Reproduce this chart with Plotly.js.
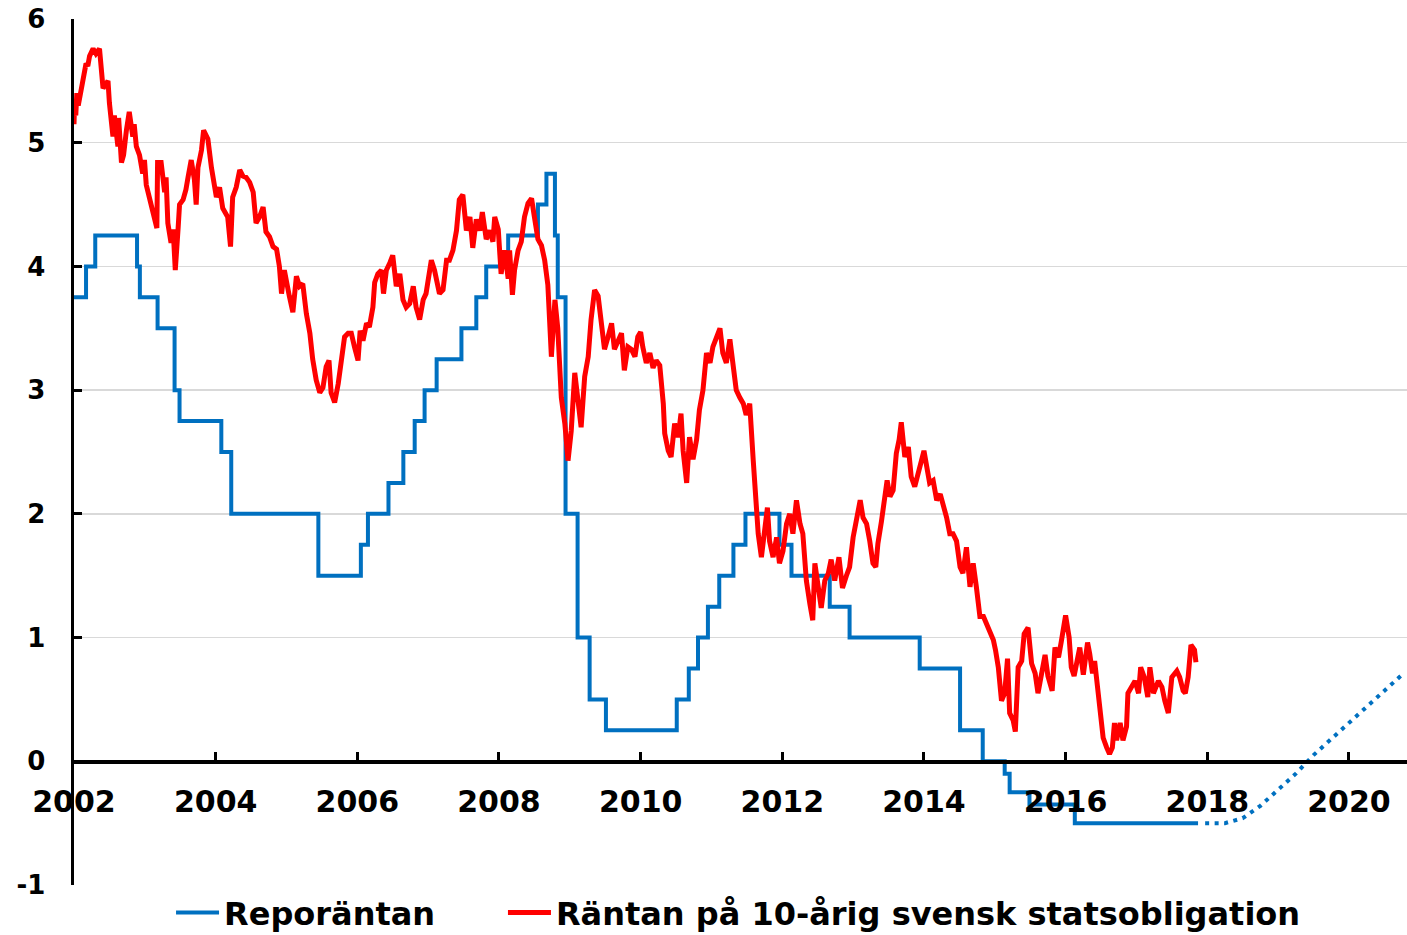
<!DOCTYPE html>
<html>
<head>
<meta charset="utf-8">
<script src="https://cdn.plot.ly/plotly-3.0.1.min.js"></script>
<style>
  html, body { margin: 0; padding: 0; background: #ffffff; }
  #chart { width: 1407px; height: 935px; }
</style>
</head>
<body>
<div id="chart"></div>
<script>
// ---- Data (decimal years, percent) ----
var seriesNames = ["Reporäntan", "Räntan på 10-årig svensk statsobligation"];

// Repo rate: step changes (year of change, new level)
var repoYears = [2002.00, 2002.17, 2002.30, 2002.89, 2002.93, 2003.18, 2003.42, 2003.49, 2004.08, 2004.22,
  2005.45, 2006.05, 2006.15, 2006.44, 2006.65, 2006.81, 2006.95, 2007.12, 2007.47, 2007.68,
  2007.82, 2008.13, 2008.55, 2008.67, 2008.79, 2008.83, 2008.94, 2009.11, 2009.28, 2009.51,
  2010.51, 2010.68, 2010.81, 2010.95, 2011.11, 2011.31, 2011.48, 2011.96, 2012.13, 2012.67,
  2012.95, 2013.94, 2014.51, 2014.83, 2015.14, 2015.21, 2015.49, 2016.13, 2017.87];
var repoRates = [3.75, 4.00, 4.25, 4.00, 3.75, 3.50, 3.00, 2.75, 2.50, 2.00,
  1.50, 1.75, 2.00, 2.25, 2.50, 2.75, 3.00, 3.25, 3.50, 3.75,
  4.00, 4.25, 4.50, 4.75, 4.25, 3.75, 2.00, 1.00, 0.50, 0.25,
  0.50, 0.75, 1.00, 1.25, 1.50, 1.75, 2.00, 1.75, 1.50, 1.25,
  1.00, 0.75, 0.25, 0.00, -0.10, -0.25, -0.35, -0.50, -0.50];

// Repo rate forecast (dotted)
var forecastYears = [2017.97, 2018.25, 2018.50, 2018.75, 2019.00, 2019.25, 2019.50, 2019.75, 2020.00, 2020.25, 2020.50, 2020.75];
var forecastRates = [-0.50, -0.50, -0.46, -0.36, -0.23, -0.10, 0.05, 0.18, 0.31, 0.44, 0.57, 0.70];

// 10-year government bond yield
var bondYears = [
  2002.00, 2002.01, 2002.025, 2002.04, 2002.06, 2002.10, 2002.125, 2002.17, 2002.195, 2002.22,
  2002.27, 2002.31, 2002.36, 2002.38, 2002.41, 2002.48, 2002.50, 2002.55, 2002.57, 2002.62,
  2002.63, 2002.67, 2002.70, 2002.74, 2002.78, 2002.83, 2002.85, 2002.88, 2002.925, 2002.97,
  2002.995, 2003.02, 2003.07, 2003.11, 2003.17, 2003.18, 2003.23, 2003.28, 2003.30, 2003.325,
  2003.37, 2003.40, 2003.43, 2003.47, 2003.49, 2003.54, 2003.58, 2003.61, 2003.655, 2003.70,
  2003.725, 2003.75, 2003.80, 2003.83, 2003.89, 2003.94, 2003.96, 2004.01, 2004.055, 2004.10,
  2004.17, 2004.21, 2004.24, 2004.29, 2004.34, 2004.385, 2004.43, 2004.48, 2004.53, 2004.57,
  2004.62, 2004.67, 2004.71, 2004.76, 2004.81, 2004.86, 2004.90, 2004.93, 2004.97, 2005.00,
  2005.04, 2005.09, 2005.14, 2005.185, 2005.23, 2005.28, 2005.33, 2005.37, 2005.42, 2005.47,
  2005.515, 2005.56, 2005.60, 2005.63, 2005.68, 2005.73, 2005.77, 2005.82, 2005.87, 2005.915,
  2005.96, 2006.01, 2006.04, 2006.08, 2006.13, 2006.17, 2006.22, 2006.245, 2006.29, 2006.34,
  2006.37, 2006.41, 2006.46, 2006.50, 2006.55, 2006.60, 2006.645, 2006.69, 2006.74, 2006.79,
  2006.83, 2006.88, 2006.93, 2006.97, 2007.045, 2007.09, 2007.16, 2007.21, 2007.26, 2007.30,
  2007.35, 2007.40, 2007.44, 2007.49, 2007.54, 2007.59, 2007.63, 2007.68, 2007.73, 2007.765,
  2007.82, 2007.87, 2007.915, 2007.94, 2007.99, 2008.03, 2008.08, 2008.13, 2008.15, 2008.19,
  2008.22, 2008.27, 2008.315, 2008.36, 2008.41, 2008.46, 2008.50, 2008.55, 2008.60, 2008.645,
  2008.69, 2008.74, 2008.79, 2008.83, 2008.88, 2008.93, 2008.975, 2009.02, 2009.07, 2009.12,
  2009.16, 2009.21, 2009.26, 2009.30, 2009.35, 2009.40, 2009.445, 2009.49, 2009.54, 2009.59,
  2009.63, 2009.68, 2009.73, 2009.77, 2009.82, 2009.87, 2009.92, 2009.96, 2010.00, 2010.03,
  2010.08, 2010.13, 2010.175, 2010.22, 2010.27, 2010.32, 2010.34, 2010.39, 2010.43, 2010.48,
  2010.53, 2010.57, 2010.60, 2010.65, 2010.69, 2010.74, 2010.79, 2010.83, 2010.88, 2010.93,
  2010.98, 2011.02, 2011.07, 2011.12, 2011.16, 2011.21, 2011.26, 2011.305, 2011.35, 2011.40,
  2011.45, 2011.49, 2011.54, 2011.59, 2011.62, 2011.66, 2011.705, 2011.75, 2011.79, 2011.82,
  2011.87, 2011.92, 2011.96, 2012.01, 2012.06, 2012.105, 2012.15, 2012.20, 2012.25, 2012.29,
  2012.34, 2012.39, 2012.43, 2012.46, 2012.51, 2012.55, 2012.60, 2012.65, 2012.69, 2012.74,
  2012.80, 2012.85, 2012.905, 2012.95, 2013.00, 2013.05, 2013.10, 2013.14, 2013.19, 2013.235,
  2013.28, 2013.32, 2013.35, 2013.40, 2013.45, 2013.48, 2013.52, 2013.565, 2013.61, 2013.65,
  2013.68, 2013.73, 2013.78, 2013.82, 2013.87, 2013.92, 2013.965, 2014.00, 2014.04, 2014.08,
  2014.13, 2014.18, 2014.23, 2014.27, 2014.32, 2014.365, 2014.41, 2014.46, 2014.51, 2014.55,
  2014.60, 2014.65, 2014.695, 2014.74, 2014.79, 2014.84, 2014.88, 2014.93, 2014.98, 2015.01,
  2015.05, 2015.095, 2015.14, 2015.18, 2015.21, 2015.26, 2015.29, 2015.33, 2015.38, 2015.415,
  2015.47, 2015.52, 2015.57, 2015.61, 2015.66, 2015.71, 2015.75, 2015.81, 2015.85, 2015.90,
  2015.94, 2015.98, 2016.00, 2016.05, 2016.08, 2016.12, 2016.17, 2016.20, 2016.25, 2016.31,
  2016.34, 2016.38, 2016.41, 2016.46, 2016.50, 2016.53, 2016.58, 2016.62, 2016.66, 2016.69,
  2016.72, 2016.77, 2016.81, 2016.86, 2016.88, 2016.93, 2016.98, 2017.03, 2017.06, 2017.11,
  2017.16, 2017.19, 2017.24, 2017.31, 2017.36, 2017.40, 2017.45, 2017.50, 2017.57, 2017.61,
  2017.66, 2017.69, 2017.73, 2017.77, 2017.82, 2017.84];
var bondYields = [
  5.15, 5.35, 5.22, 5.40, 5.30, 5.43, 5.55, 5.64, 5.62, 5.70,
  5.76, 5.72, 5.76, 5.66, 5.44, 5.50, 5.32, 5.05, 5.22, 4.97,
  5.20, 4.84, 4.90, 5.10, 5.25, 5.05, 5.15, 4.97, 4.90, 4.75,
  4.86, 4.66, 4.54, 4.43, 4.31, 4.84, 4.84, 4.60, 4.72, 4.35,
  4.19, 4.30, 3.97, 4.31, 4.50, 4.54, 4.62, 4.72, 4.86, 4.70,
  4.50, 4.80, 4.94, 5.10, 5.03, 4.80, 4.72, 4.56, 4.64, 4.47,
  4.40, 4.16, 4.56, 4.64, 4.78, 4.73, 4.72, 4.68, 4.60, 4.35,
  4.40, 4.48, 4.28, 4.24, 4.16, 4.14, 4.00, 3.78, 3.97, 3.86,
  3.76, 3.63, 3.92, 3.84, 3.86, 3.62, 3.46, 3.25, 3.08, 2.98,
  3.02, 3.19, 3.24, 2.98, 2.90, 3.05, 3.24, 3.43, 3.46, 3.46,
  3.35, 3.24, 3.48, 3.40, 3.54, 3.51, 3.67, 3.87, 3.94, 3.97,
  3.78, 3.97, 4.03, 4.09, 3.84, 3.94, 3.73, 3.67, 3.70, 3.84,
  3.67, 3.57, 3.73, 3.78, 4.05, 3.97, 3.78, 3.81, 4.05, 4.05,
  4.13, 4.29, 4.54, 4.58, 4.29, 4.40, 4.15, 4.38, 4.29, 4.44,
  4.22, 4.29, 4.20, 4.40, 4.30, 3.94, 4.13, 3.90, 4.13, 3.77,
  3.97, 4.13, 4.20, 4.40, 4.51, 4.55, 4.40, 4.22, 4.17, 4.05,
  3.85, 3.27, 3.73, 3.50, 2.94, 2.73, 2.43, 2.67, 3.14, 2.89,
  2.70, 3.11, 3.27, 3.57, 3.81, 3.76, 3.54, 3.33, 3.43, 3.54,
  3.33, 3.40, 3.46, 3.16, 3.35, 3.33, 3.27, 3.43, 3.47, 3.35,
  3.22, 3.30, 3.18, 3.24, 3.20, 2.89, 2.65, 2.51, 2.46, 2.73,
  2.62, 2.81, 2.51, 2.25, 2.62, 2.44, 2.60, 2.84, 3.00, 3.30,
  3.22, 3.35, 3.43, 3.50, 3.30, 3.22, 3.41, 3.20, 3.00, 2.94,
  2.89, 2.80, 2.89, 2.43, 2.11, 1.84, 1.65, 1.84, 2.05, 1.78,
  1.65, 1.81, 1.60, 1.70, 1.92, 2.00, 1.84, 2.11, 1.92, 1.84,
  1.46, 1.27, 1.14, 1.60, 1.43, 1.24, 1.46, 1.52, 1.63, 1.46,
  1.65, 1.40, 1.50, 1.57, 1.81, 1.97, 2.11, 1.97, 1.92, 1.78,
  1.60, 1.57, 1.76, 1.94, 2.11, 2.27, 2.14, 2.19, 2.49, 2.60,
  2.74, 2.46, 2.54, 2.30, 2.22, 2.35, 2.43, 2.51, 2.35, 2.25,
  2.27, 2.11, 2.16, 2.08, 1.97, 1.84, 1.84, 1.78, 1.57, 1.52,
  1.73, 1.41, 1.60, 1.41, 1.17, 1.17, 1.11, 1.03, 0.98, 0.90,
  0.76, 0.49, 0.55, 0.83, 0.39, 0.33, 0.24, 0.76, 0.81, 1.03,
  1.08, 0.79, 0.71, 0.55, 0.73, 0.86, 0.69, 0.57, 0.92, 0.84,
  0.97, 1.11, 1.18, 1.00, 0.76, 0.69, 0.84, 0.92, 0.70, 0.96,
  0.87, 0.71, 0.81, 0.57, 0.30, 0.19, 0.11, 0.06, 0.11, 0.31,
  0.17, 0.31, 0.17, 0.28, 0.55, 0.60, 0.65, 0.55, 0.76, 0.68,
  0.52, 0.76, 0.55, 0.65, 0.60, 0.49, 0.39, 0.68, 0.73, 0.68,
  0.57, 0.55, 0.68, 0.94, 0.90, 0.80];

var xTickVals = [2002, 2004, 2006, 2008, 2010, 2012, 2014, 2016, 2018, 2020];
var xTickText = ["2002", "2004", "2006", "2008", "2010", "2012", "2014", "2016", "2018", "2020"];
var yTickVals = [-1, 0, 1, 2, 3, 4, 5, 6];
var yTickText = ["-1", "0", "1", "2", "3", "4", "5", "6"];

// ---- Styling ----
var FONT = "DejaVu Sans, Verdana, sans-serif";
var BLUE = "#0070C0";
var RED = "#FF0000";
var yMin = -1, yMax = 6;

var traces = [
  {
    x: repoYears, y: repoRates, type: "scatter", mode: "lines",
    name: seriesNames[0], legend: "legend",
    line: { color: BLUE, width: 4, shape: "hv" },
    hoverinfo: "skip"
  },
  {
    x: forecastYears, y: forecastRates, type: "scatter", mode: "lines",
    name: seriesNames[0] + " (prognos)", showlegend: false,
    line: { color: BLUE, width: 4, dash: "4px,5.5px" },
    hoverinfo: "skip"
  },
  {
    x: bondYears, y: bondYields, type: "scatter", mode: "lines",
    name: seriesNames[1], legend: "legend2",
    line: { color: RED, width: 5 },
    hoverinfo: "skip"
  }
];

var legendFont = { family: FONT, size: 32, weight: "bold", color: "#000000" };

var layout = {
  width: 1407, height: 935,
  margin: { l: 74, r: 0, t: 19, b: 50, pad: 0, autoexpand: false },
  paper_bgcolor: "#ffffff", plot_bgcolor: "#ffffff",
  font: { family: FONT, color: "#000000" },
  showlegend: true,
  legend: {
    orientation: "h",
    x: 0.0728, xanchor: "left",
    y: -0.032, yanchor: "middle",
    font: legendFont, itemwidth: 43,
    bgcolor: "rgba(0,0,0,0)", borderwidth: 0
  },
  legend2: {
    orientation: "h",
    x: 0.3218, xanchor: "left",
    y: -0.032, yanchor: "middle",
    font: legendFont, itemwidth: 43,
    bgcolor: "rgba(0,0,0,0)", borderwidth: 0
  },
  xaxis: {
    type: "linear",
    range: [2002, 2020.82],
    anchor: "free",
    position: (0 - yMin) / (yMax - yMin),
    side: "bottom",
    tickmode: "array", tickvals: xTickVals, ticktext: xTickText,
    showgrid: false, zeroline: false,
    showline: true, linecolor: "#000000", linewidth: 3.5,
    ticks: "inside", ticklen: 8, tickwidth: 3, tickcolor: "#000000",
    ticklabelstandoff: 12,
    tickfont: { family: FONT, size: 30, weight: "bold", color: "#000000" },
    fixedrange: true
  },
  yaxis: {
    range: [yMin, yMax],
    tickmode: "array", tickvals: yTickVals, ticktext: yTickText,
    showgrid: true, gridcolor: "#d9d9d9", gridwidth: 1.3,
    zeroline: false,
    showline: true, linecolor: "#000000", linewidth: 3.5,
    ticks: "inside", ticklen: 8, tickwidth: 3, tickcolor: "#000000",
    ticklabelstandoff: 20,
    tickfont: { family: FONT, size: 26, weight: "bold", color: "#000000" },
    fixedrange: true
  }
};

Plotly.newPlot("chart", traces, layout, { displayModeBar: false, staticPlot: true });
</script>
</body>
</html>
